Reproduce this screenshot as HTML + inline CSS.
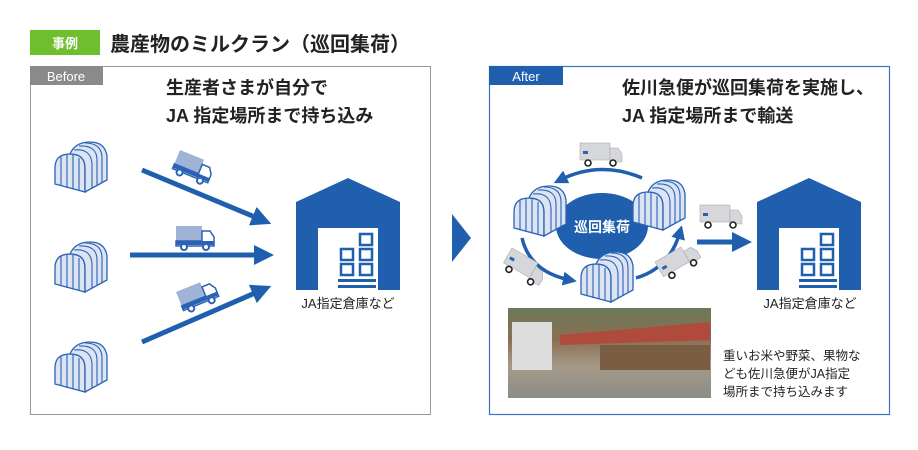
<!DOCTYPE html>
<html><head><meta charset="utf-8"><style>
body{margin:0;background:#fff;width:918px;height:445px;overflow:hidden;font-family:"Liberation Sans","Noto Sans CJK JP",sans-serif}
</style></head><body>
<svg width="918" height="445" viewBox="0 0 918 445" xmlns="http://www.w3.org/2000/svg" font-family="Liberation Sans, Noto Sans CJK JP, sans-serif">
<defs>
<g id="gh">
<path d="M0 26 Q0 12 15 12 Q30 12 30 26 L30 50 L0 42 Z" fill="#dce3f2" stroke="#2a63b5" stroke-width="1.3"/>
<path d="M15 12 Q20 0 35 0 Q50 0 52 14 L52 38 L30 50 L30 26 Q30 12 15 12 Z" fill="#dce3f2" stroke="#2a63b5" stroke-width="1.3"/>
<path d="M19 8 Q36 6 37 22 M24 4 Q42 3 42 18 M30 1 Q47 1 47 16 M37 22 L37 46 M42 18 L42 43 M47 16 L47 41 M6 14 L6 44 M12 12 L12 46 M18 13 L18 47 M24 16 L24 49" fill="none" stroke="#2a63b5" stroke-width="1.1"/>
</g>
<g id="tr">
<rect x="0" y="0" width="26" height="15" fill="#9fb3d6"/>
<path d="M26 5 L34 5 L38 11 L38 20 L0 20 L0 15 L26 15 Z" fill="#fff" stroke="#2a63b5" stroke-width="1.5"/>
<rect x="0" y="15" width="38" height="4" fill="#2a63b5"/>
<circle cx="8" cy="21" r="3" fill="#fff" stroke="#2a63b5" stroke-width="2"/>
<circle cx="30" cy="21" r="3" fill="#fff" stroke="#2a63b5" stroke-width="2"/>
</g>
<g id="wt">
<rect x="0" y="0" width="30" height="17" fill="#d5d7da" stroke="#aaa" stroke-width=".6"/>
<path d="M30 5 L38 5 L42 11 L42 19 L30 19 Z" fill="#d5d7da" stroke="#aaa" stroke-width=".6"/>
<rect x="3" y="8" width="5" height="3" fill="#2a63b5"/>
<circle cx="8" cy="20" r="3" fill="#fff" stroke="#222" stroke-width="1.6"/>
<circle cx="33" cy="20" r="3" fill="#fff" stroke="#222" stroke-width="1.6"/>
</g>
<g id="wh">
<path d="M0 24 L52 0 L104 24 L104 112 L0 112 Z" fill="#1f5fae"/>
<rect x="22" y="50" width="60" height="62" fill="#fff"/>
<g fill="none" stroke="#1f5fae" stroke-width="2.5">
<rect x="64" y="56" width="12" height="11"/>
<rect x="45" y="71" width="12" height="11"/><rect x="64" y="71" width="12" height="11"/>
<rect x="45" y="86" width="12" height="11"/><rect x="64" y="86" width="12" height="11"/>
</g>
<rect x="42" y="101" width="38" height="3" fill="#1f5fae"/>
<rect x="42" y="107" width="38" height="3" fill="#1f5fae"/>
</g>
<marker id="ah" markerWidth="4" markerHeight="4" refX="2" refY="2" orient="auto"><path d="M0 0 L4 2 L0 4Z" fill="#1f5fae"/></marker>
</defs>
<rect x="30" y="30" width="70" height="25" fill="#6fbe2e"/>
<text x="65" y="48" font-size="13" font-weight="bold" fill="#fff" text-anchor="middle">事例</text>
<text x="110" y="51" font-size="20" font-weight="bold" fill="#222">農産物のミルクラン（巡回集荷）</text>

<rect x="30.5" y="66.5" width="400" height="348" fill="none" stroke="#999" stroke-width="1"/>
<rect x="30" y="66" width="73" height="19" fill="#8a8a8a"/>
<text x="66" y="81" font-size="13" fill="#fff" text-anchor="middle">Before</text>
<text x="166" y="94" font-size="18" font-weight="bold" fill="#222">生産者さまが自分で</text>
<text x="166" y="122" font-size="18" font-weight="bold" fill="#222">JA 指定場所まで持ち込み</text>
<use href="#gh" x="55" y="142"/><use href="#gh" x="55" y="242"/><use href="#gh" x="55" y="342"/>
<g stroke="#1f5fae" stroke-width="5" marker-end="url(#ah)">
<line x1="142" y1="170" x2="262" y2="220"/>
<line x1="130" y1="255" x2="264" y2="255"/>
<line x1="142" y1="342" x2="262" y2="290"/>
</g>
<use href="#tr" transform="translate(180,150) rotate(22)"/>
<use href="#tr" x="176" y="226"/>
<use href="#tr" transform="translate(176,292) rotate(-22)"/>
<use href="#wh" x="296" y="178"/>
<text x="348" y="308" font-size="13" fill="#222" text-anchor="middle">JA指定倉庫など</text>

<path d="M452 214 L471 238 L452 262 Z" fill="#1f5fae"/>

<rect x="489.5" y="66.5" width="400" height="348" fill="none" stroke="#3b74c4" stroke-width="1.2"/>
<rect x="489" y="66" width="74" height="19" fill="#1f5fae"/>
<text x="526" y="81" font-size="13" fill="#fff" text-anchor="middle">After</text>
<text x="622" y="94" font-size="18" font-weight="bold" fill="#222">佐川急便が巡回集荷を実施し、</text>
<text x="622" y="122" font-size="18" font-weight="bold" fill="#222">JA 指定場所まで輸送</text>
<ellipse cx="602" cy="226" rx="46" ry="33" fill="#1f5fae"/>
<text x="602" y="232" font-size="14" font-weight="bold" fill="#fff" text-anchor="middle">巡回集荷</text>
<g fill="none" stroke="#1f5fae" stroke-width="3.5" marker-end="url(#ah)">
<path d="M642 178 Q600 160 560 180"/>
<path d="M522 238 Q530 272 570 280"/>
<path d="M636 278 Q670 268 680 232"/>
</g>
<line x1="697" y1="242" x2="742" y2="242" stroke="#1f5fae" stroke-width="5" marker-end="url(#ah)"/>
<use href="#gh" x="514" y="186"/><use href="#gh" x="633" y="180"/><use href="#gh" x="581" y="252"/>
<use href="#wt" x="580" y="143"/>
<use href="#wt" x="700" y="205"/>
<use href="#wt" transform="translate(512,248) rotate(30)"/>
<use href="#wt" transform="translate(655,262) rotate(-30)"/>
<use href="#wh" x="757" y="178"/>
<text x="810" y="308" font-size="13" fill="#222" text-anchor="middle">JA指定倉庫など</text>
<defs><linearGradient id="ph" x1="0" y1="0" x2="0" y2="1"><stop offset="0" stop-color="#6a7a5a"/><stop offset=".35" stop-color="#8b6e52"/><stop offset=".65" stop-color="#a59a88"/><stop offset="1" stop-color="#8c8c88"/></linearGradient></defs>
<rect x="508" y="308" width="203" height="90" fill="url(#ph)"/>
<rect x="512" y="322" width="40" height="48" fill="#ddd"/>
<path d="M560 335 L710 322 L710 340 L560 345Z" fill="#b04a3c"/>
<rect x="600" y="345" width="110" height="25" fill="#7a5e44"/>
<text x="723" y="360" font-size="12.5" fill="#222">重いお米や野菜、果物な</text>
<text x="723" y="378" font-size="12.5" fill="#222">ども佐川急便がJA指定</text>
<text x="723" y="396" font-size="12.5" fill="#222">場所まで持ち込みます</text>
</svg>
</body></html>
